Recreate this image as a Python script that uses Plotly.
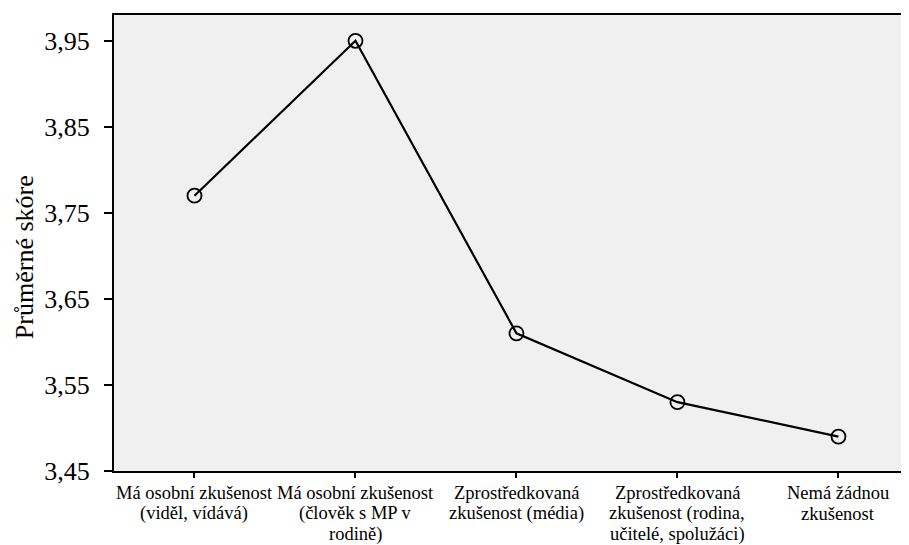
import plotly.graph_objects as go

categories = [
    "Má osobní zkušenost<br>(viděl, vídává)",
    "Má osobní zkušenost<br>(člověk s MP v<br>rodině)",
    "Zprostředkovaná<br>zkušenost (média)",
    "Zprostředkovaná<br>zkušenost (rodina,<br>učitelé, spolužáci)",
    "Nemá žádnou<br>zkušenost",
]
scores = [3.77, 3.95, 3.61, 3.53, 3.49]
y_ticks = [3.45, 3.55, 3.65, 3.75, 3.85, 3.95]
y_tick_labels = ["3,45", "3,55", "3,65", "3,75", "3,85", "3,95"]

x_pos = list(range(len(categories)))
font_family = "Liberation Serif"

fig = go.Figure()
fig.add_trace(go.Scatter(
    x=x_pos, y=scores, mode="lines+markers",
    line=dict(color="black", width=2.2),
    marker=dict(symbol="circle-open", size=14, color="black", line=dict(width=1.8, color="black")),
    showlegend=False, cliponaxis=False,
))

# category labels: one annotation per text line, tight line spacing as in the reference
label_font = 18.5
line_gap = 20.5
annotations = []
for i, cat in enumerate(categories):
    for j, line in enumerate(cat.split("<br>")):
        annotations.append(dict(
            text=line, showarrow=False, xref="x", yref="paper", x=i, y=0,
            xanchor="center", yanchor="middle", yshift=-(22 + j * line_gap),
            font=dict(size=label_font, family=font_family, color="black"),
        ))
annotations.append(dict(
    text="Průměrné skóre", textangle=-90, showarrow=False,
    xref="paper", yref="paper", x=0, y=0.469, xshift=-90,
    xanchor="center", yanchor="middle",
    font=dict(size=26, family=font_family, color="black"),
))

fig.update_layout(
    width=909, height=545,
    margin=dict(l=106, r=0, t=7, b=82, autoexpand=False),
    paper_bgcolor="white", plot_bgcolor="#f0f0f0",
    font=dict(family=font_family, color="black"),
    xaxis=dict(
        range=[-0.5, 4.488], tickvals=x_pos, showticklabels=False,
        showgrid=False, zeroline=False, showline=True, linecolor="black", linewidth=2,
        mirror=True, ticks="outside", ticklen=5, tickwidth=1.5, tickcolor="black",
        fixedrange=True, automargin=False,
    ),
    yaxis=dict(
        range=[3.45, 3.980], tickvals=y_ticks, ticktext=y_tick_labels,
        showgrid=False, zeroline=False, showline=True, linecolor="black", linewidth=2,
        ticks="outside", ticklen=8, tickwidth=1.5, tickcolor="black", ticklabelstandoff=9,
        tickfont=dict(size=26, family=font_family), fixedrange=True, automargin=False,
    ),
    annotations=annotations,
)

fig.write_html("out.html")
